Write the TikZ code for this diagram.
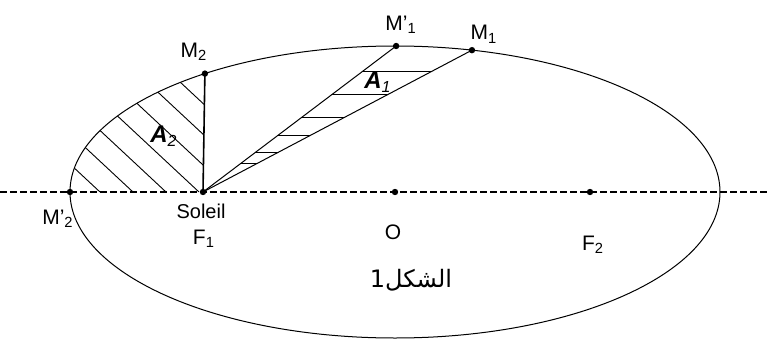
\documentclass[tikz,border=0pt]{standalone}
\usepackage{fontspec}
\setmainfont{Liberation Sans}
\newfontfamily\arabicfont[Script=Arabic]{DejaVu Sans}
\TeXXeTstate=1
\usetikzlibrary{calc}

\begin{document}
\begin{tikzpicture}[
  x=0.5pt, y=0.5pt,
  lbl/.style={font=\fontsize{10.5}{12}\selectfont, inner sep=0pt},
  area/.style={font=\fontsize{12}{13}\selectfont\bfseries\itshape, inner sep=0pt},
  orbit/.style={line width=0.5pt},
  axis/.style={line width=1.1pt, dash pattern=on 3.5pt off 1.5pt},
  hatch/.style={line width=0.45pt},
  ray/.style={line width=0.5pt}
]
  \useasboundingbox (-395,-146) rectangle (375,192);

  % points on the orbit and on the axis
  \coordinate (O) at (0,0);
  \coordinate (F1) at (-192,0);
  \coordinate (F2) at (195,0);
  \coordinate (M2) at (125.8:325 and 146);
  \coordinate (M1p) at (89.8:325 and 146);
  \coordinate (M1) at (76.3:325 and 146);
  \coordinate (M2p) at (-325,0);
  \coordinate (west) at (-395,0);
  \coordinate (east) at (375,0);

  % hatching of A2
  \begin{scope}
    \clip (F1) -- (M2) arc[start angle=125.8, end angle=180, x radius=325, y radius=146] -- cycle;
    \foreach \s in {-295,-262,...,-97}
      \draw[hatch] (\s,0) -- ++(137:220);
  \end{scope}

  % hatching of A1
  \begin{scope}
    \clip (F1) -- (M1p) -- (M1) -- cycle;
    \foreach \h in {29,40,57,75,98,121}
      \draw[hatch] (-200,\h) -- (100,\h);
  \end{scope}

  \draw[orbit] (O) ellipse[x radius=325, y radius=146];
  \draw[axis] (west) -- (east);
  \draw[ray] (F1) -- (M1p);
  \draw[ray] (F1) -- (M1);
  \draw[line width=0.8pt] (F1) -- (M2);

  \foreach \p in {M2,M1p,M1,M2p,F1,O,F2}
    \fill (\p) circle (1.6pt);

  % labels
  \node[lbl] (lM2) at ($(M2)+(-11,22)$) {M\textsubscript{2}};
  \node[lbl] (lM1p) at ($(M1p)+(5,21)$) {M'\textsubscript{1}};
  \node[lbl] (lM1) at ($(M1)+(12,16)$) {M\textsubscript{1}};
  \node[lbl] (lM2p) at ($(M2p)+(-12,-27)$) {M'\textsubscript{2}};
  \node[lbl, font=\fontsize{10}{12}\selectfont] (sun) at ($(F1)+(-2,-19)$) {Soleil};
  \node[lbl] (lF1) at ($(F1)+(1,-47)$) {F\textsubscript{1}};
  \node[lbl] (lO) at ($(O)+(-2,-40)$) {O};
  \node[lbl] (lF2) at ($(F2)+(3,-53)$) {F\textsubscript{2}};
  \node[area] (A1) at (-17,110) {A\textsubscript{\mdseries 1}};
  \node[area] (A2) at (-231,56) {A\textsubscript{\mdseries 2}};
  \node[font=\arabicfont\fontsize{12}{13}\selectfont, inner sep=0pt] (fig) at ($(O)+(16,-88)$) {\beginR الشكل1\endR};
\end{tikzpicture}
\end{document}
